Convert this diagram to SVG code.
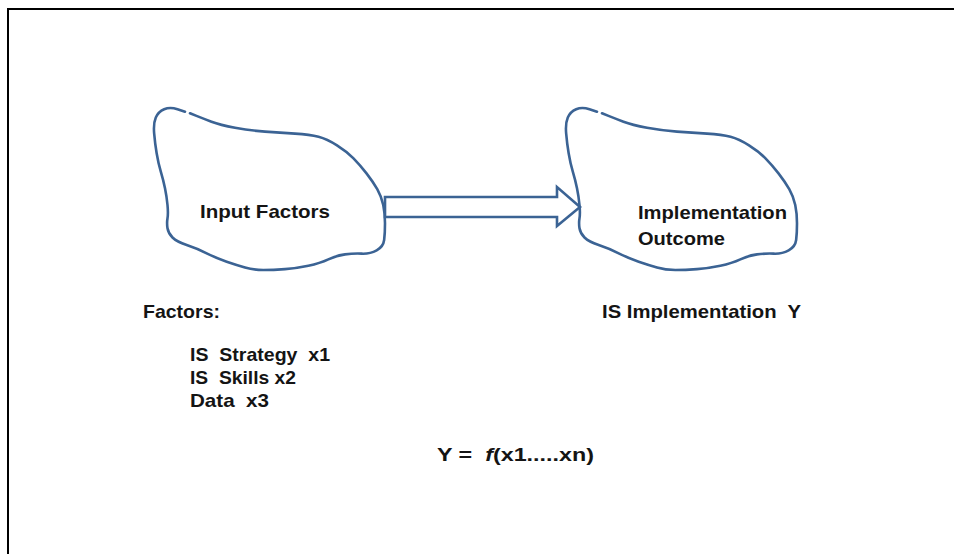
<svg xmlns="http://www.w3.org/2000/svg" xmlns:xlink="http://www.w3.org/1999/xlink" width="954" height="554" viewBox="0 0 954 554">
<style>
.cloud{fill:none;stroke:#3b6394;stroke-width:2.6;stroke-linecap:round;stroke-linejoin:round}
.arrow{fill:#fff;stroke:#3b6394;stroke-width:2.6;stroke-linejoin:miter}
.t{font-family:"Liberation Sans",Arial,sans-serif;font-weight:bold;font-size:18.5px;fill:#141414;white-space:pre}
</style>
<defs>
<path id="cloudShape" d="M 190,113.3 L 196.5,115.9 Q 203,118.5 211.5,121.75 Q 220,125 235,127.75 Q 250,130.5 265,131.6 Q 280,132.7 295,133.6 Q 310,134.5 318.5,136.75 Q 327,139 337,145.35 Q 347,151.7 353.5,158.35 Q 360,165 366.5,173.35 Q 373,181.7 377.25,189.2 Q 381.5,196.7 383.25,205 Q 385,213.3 385,223.3 Q 385,233.3 384.15,240 Q 383.3,246.7 376.65,250.35 Q 370,254 361.65,253.65 Q 353.3,253.3 345,254.4 Q 336.7,255.5 328.35,259.4 Q 320,263.3 308.35,265.8 Q 296.7,268.3 285,269.15 Q 273.3,270 263.3,270 Q 253.3,270 245,267.5 Q 236.7,265 226.7,261.65 Q 216.7,258.3 206.7,253.3 Q 196.7,248.3 186.7,245 Q 176.7,241.7 172.5,237.5 Q 168.3,233.3 167.5,228.3 Q 166.7,223.3 167.5,218.3 Q 168.3,213.3 167.5,205 Q 166.7,196.7 165,188.35 Q 163.3,180 160.8,171.65 Q 158.3,163.3 156.65,153.3 Q 155,143.3 154.15,133.3 Q 153.3,123.3 155.8,117.5 Q 158.3,111.7 164.15,109.2 Q 170,106.7 177.5,109.2 L 185,111.7"/>
</defs>
<rect width="954" height="554" fill="#fff"/>
<path d="M 8,554 V 9 H 954" fill="none" stroke="#000" stroke-width="2"/>
<g id="input-factors">
<use xlink:href="#cloudShape" class="cloud"/>
<text class="t" x="200" y="218" textLength="130" lengthAdjust="spacingAndGlyphs">Input Factors</text>
</g>
<g id="implementation-outcome">
<use xlink:href="#cloudShape" class="cloud" transform="translate(412,0)"/>
<text class="t" x="638" y="219" textLength="149" lengthAdjust="spacingAndGlyphs">Implementation</text>
<text class="t" x="638" y="245" textLength="87" lengthAdjust="spacingAndGlyphs">Outcome</text>
</g>
<g id="connectors">
<polygon class="arrow" points="385,197 557,197 557,187 580,207 557,226 557,217 385,217"/>
</g>
<g id="factors">
<text class="t" x="143" y="318" textLength="77" lengthAdjust="spacingAndGlyphs">Factors:</text>
<text class="t" x="190" y="361" textLength="140" lengthAdjust="spacingAndGlyphs">IS  Strategy  x1</text>
<text class="t" x="190" y="384" textLength="106" lengthAdjust="spacingAndGlyphs">IS  Skills x2</text>
<text class="t" x="190" y="407" textLength="79" lengthAdjust="spacingAndGlyphs">Data  x3</text>
</g>
<g id="outcome-label">
<text class="t" x="602" y="318" textLength="199" lengthAdjust="spacingAndGlyphs">IS Implementation  Y</text>
</g>
<g id="formula">
<text class="t" x="437" y="461" textLength="157" lengthAdjust="spacingAndGlyphs">Y =  <tspan font-style="italic">f</tspan>(x1.....xn)</text>
</g>
</svg>
